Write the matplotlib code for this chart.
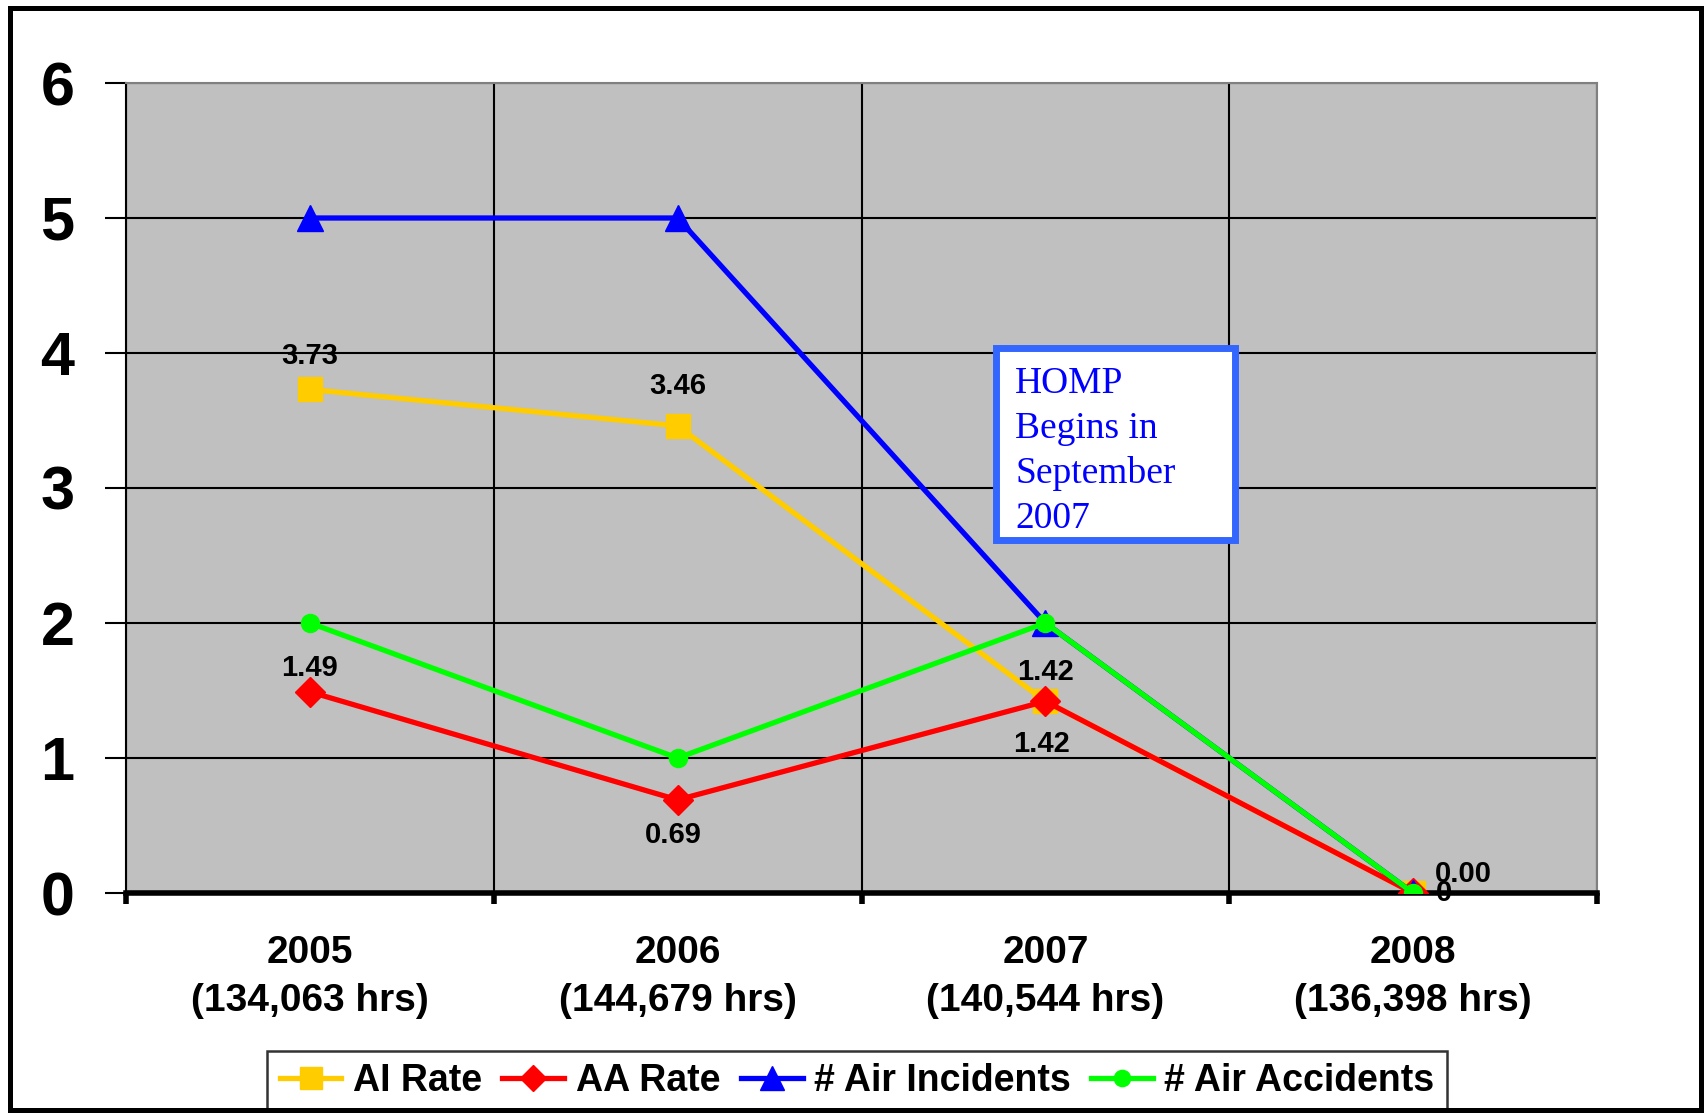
import numpy as np
import matplotlib
matplotlib.use("Agg")
import matplotlib.pyplot as plt
from matplotlib.patches import Rectangle

# data
years = ["2005\n(134,063 hrs)", "2006\n(144,679 hrs)", "2007\n(140,544 hrs)", "2008\n(136,398 hrs)"]
ai_rate = [3.73, 3.46, 1.42, 0.00]
aa_rate = [1.49, 0.69, 1.42, 0.0]
air_incidents = [5, 5, 2, 0]
air_accidents = [2, 1, 2, 0]
ai_labels = ["3.73", "3.46", "1.42", "0.00"]
aa_labels = ["1.49", "0.69", "1.42", "0"]
note = ["HOMP", "Begins in", "September", "2007"]

W, H = 1705, 1113
fig = plt.figure(figsize=(W / 100, H / 100), dpi=100)
fig.patch.set_facecolor("white")

def fx(px):
    return px / W

def fy(py):
    return 1 - py / H

ax = fig.add_axes([fx(126), fy(893), fx(1597) - fx(126), fy(83) - fy(893)])
ax.set_facecolor("#C0C0C0")
x = np.arange(len(years))

ax.plot(x, ai_rate, color="#FFCC00", lw=3.8, marker="s", ms=17, label="AI Rate", zorder=3)
ax.plot(x, aa_rate, color="#FF0000", lw=3.8, marker="D", ms=15, label="AA Rate", zorder=4)
ax.plot(x, air_incidents, color="#0000FF", lw=3.8, marker="^", ms=19, label="# Air Incidents", zorder=5)
ax.plot(x, air_accidents, color="#00FF00", lw=3.8, marker="o", ms=13, label="# Air Accidents", zorder=6)

ax.set_xlim(-0.5, 3.5)
ax.set_ylim(0, 6)
ax.set_yticks(range(7))
ax.set_xticks([-0.5, 0.5, 1.5, 2.5, 3.5])
ax.set_xticklabels([])
ax.set_xticks(x, minor=True)
ax.set_xticklabels(years, minor=True, fontsize=28, fontweight="bold",
                   family="Liberation Sans", linespacing=1.45)
ax.tick_params(axis="x", which="minor", length=0, pad=30)
ax.tick_params(axis="x", which="major", length=8, width=4, direction="out", color="black")
ax.tick_params(axis="y", length=15, width=1.5, pad=22, color="black")
for lab in ax.get_yticklabels():
    lab.set_fontsize(44)
    lab.set_fontweight("bold")
    lab.set_family("Liberation Sans")
ax.grid(True, color="black", lw=1.5, zorder=1)
ax.set_axisbelow(True)

ax.spines["left"].set_color("black")
ax.spines["left"].set_linewidth(1.5)
ax.spines["bottom"].set_color("black")
ax.spines["bottom"].set_linewidth(4)
ax.spines["bottom"].set_zorder(2.5)
for s in ["top", "right"]:
    ax.spines[s].set_color("#808080")
    ax.spines[s].set_linewidth(1.5)

lab_kw = dict(fontsize=21, fontweight="bold", family="Liberation Sans",
              ha="center", va="center", textcoords="offset points", zorder=7)
ai_off = [(0, 24), (0, 29), (0, 21), (36, 14)]
aa_off = [(0, 17), (-3, -25), (-3, -31), (22, 0)]
for i in range(len(years)):
    ax.annotate(ai_labels[i], (x[i], ai_rate[i]), xytext=ai_off[i], **lab_kw)
    ax.annotate(aa_labels[i], (x[i], aa_rate[i]), xytext=aa_off[i], **lab_kw)

# HOMP note box
fig.patches.append(Rectangle((fx(995.5), fy(539.5)), fx(1234.5) - fx(995.5), fy(347.5) - fy(539.5),
                             transform=fig.transFigure, facecolor="white",
                             edgecolor="#3366FF", lw=5, zorder=10))
for i, line in enumerate(note):
    fig.text(fx(1015), fy(393 + 45 * i), line, color="#0000FF", fontsize=27,
             family="Liberation Serif", va="baseline", ha="left", zorder=11)

leg = fig.legend(loc="center", bbox_to_anchor=(fx(857), fy(1081)), ncol=4,
                 prop={"family": "Liberation Sans", "weight": "bold", "size": 27},
                 handlelength=1.65, handletextpad=0.3, columnspacing=0.55,
                 borderpad=0.33, frameon=True, fancybox=False, edgecolor="black",
                 markerscale=0.9)
leg.get_frame().set_linewidth(1.8)

# outer frame
fig.patches.append(Rectangle((fx(9.5), fy(1110)), fx(1701) - fx(9.5), fy(7.5) - fy(1110),
                             transform=fig.transFigure, fill=False, edgecolor="black",
                             lw=3.6, zorder=20))

fig.savefig("out.png", dpi=100)
